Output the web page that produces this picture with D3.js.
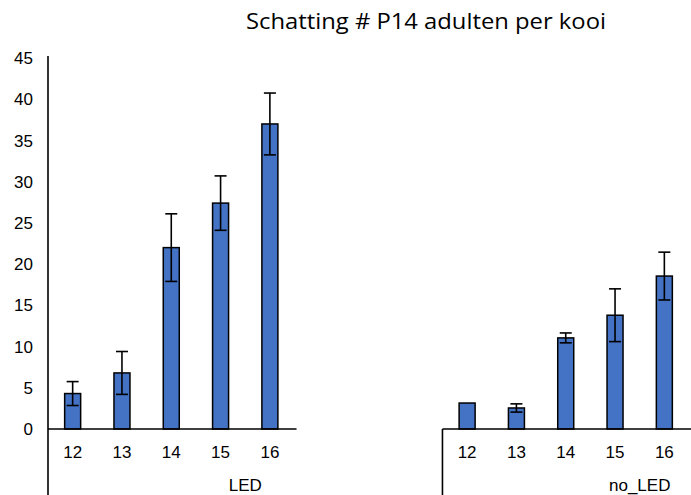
<!DOCTYPE html>
<html>
<head>
<meta charset="utf-8">
<script src="https://cdn.jsdelivr.net/npm/d3@7"></script>
<style>
  body { margin: 0; background: #fff; }
</style>
</head>
<body>
<div id="chart"></div>
<script>
const title = "Schatting # P14 adulten per kooi";
const years = ["12", "13", "14", "15", "16"];
const groups = ["LED", "no_LED"];
const ledMean = [4.3, 6.8, 22.0, 27.4, 37.0];
const ledErr = [1.45, 2.6, 4.1, 3.3, 3.75];
const noLedMean = [3.15, 2.55, 11.05, 13.8, 18.55];
const noLedErr = [0, 0.5, 0.6, 3.2, 2.9];
const yTicks = [0, 5, 10, 15, 20, 25, 30, 35, 40, 45];

const w = 691, h = 495;
const margin = { left: 48, right: 0, top: 58, bottom: 66 };

// 13 slots: 5 LED, 3 empty, 5 no_LED
const slots = [
  ...years.map(y => "LED-" + y),
  "gap1", "gap2", "gap3",
  ...years.map(y => "no_LED-" + y)
];

const data = [
  ...years.map((y, i) => ({ group: "LED", year: y, v: ledMean[i], e: ledErr[i] })),
  ...years.map((y, i) => ({ group: "no_LED", year: y, v: noLedMean[i], e: noLedErr[i] }))
];

let x = d3.scaleBand()
  .domain(slots)
  .range([margin.left, w - margin.right - 2]);

let y = d3.scaleLinear()
  .domain([0, 45])
  .range([h - margin.bottom, margin.top]);

let svg = d3.select("#chart")
  .append("svg")
  .attr("width", w)
  .attr("height", h)
  .style("font-family", "'Liberation Sans', Arial, sans-serif");

svg.append("text")
  .attr("x", 426)
  .attr("y", 28.5)
  .attr("text-anchor", "middle")
  .style("font-family", "'Open Sans', sans-serif")
  .attr("font-size", 21.5)
  .attr("textLength", 360)
  .attr("lengthAdjust", "spacingAndGlyphs")
  .attr("fill", "#000")
  .text(title);

// y tick labels (no axis line ticks)
svg.append("g")
  .selectAll("text")
  .data(yTicks)
  .join("text")
  .attr("x", margin.left - 15)
  .attr("y", d => y(d))
  .attr("dy", "0.36em")
  .attr("text-anchor", "end")
  .attr("font-size", 17)
  .text(d => d);

// bars
let key = d => d.group + "-" + d.year;
let bw = 16;
svg.append("g")
  .selectAll("rect")
  .data(data)
  .join("rect")
  .attr("x", d => x(key(d)) + x.bandwidth() / 2 - bw / 2)
  .attr("y", d => y(d.v))
  .attr("width", bw)
  .attr("height", d => y(0) - y(d.v))
  .attr("fill", "#4472C4")
  .attr("stroke", "#000")
  .attr("stroke-width", 1.5);

// error bars
let eb = svg.append("g")
  .attr("stroke", "#000")
  .attr("stroke-width", 1.6)
  .selectAll("g")
  .data(data.filter(d => d.e > 0))
  .join("g")
  .attr("transform", d => `translate(${x(key(d)) + x.bandwidth() / 2},0)`);
eb.append("line")
  .attr("y1", d => y(d.v + d.e))
  .attr("y2", d => y(d.v - d.e));
eb.append("line")
  .attr("x1", -6).attr("x2", 6)
  .attr("y1", d => y(d.v + d.e))
  .attr("y2", d => y(d.v + d.e));
eb.append("line")
  .attr("x1", -6).attr("x2", 6)
  .attr("y1", d => y(d.v - d.e))
  .attr("y2", d => y(d.v - d.e));

// axes lines
let axis = svg.append("g")
  .attr("stroke", "#000")
  .attr("stroke-width", 1.6);
axis.append("line")
  .attr("x1", x.range()[0]).attr("x2", x.range()[0])
  .attr("y1", y(45) - 2).attr("y2", h);
axis.append("line")
  .attr("x1", x("LED-12")).attr("x2", x("gap1") + 2)
  .attr("y1", y(0)).attr("y2", y(0));
axis.append("line")
  .attr("x1", x("no_LED-12")).attr("x2", w)
  .attr("y1", y(0)).attr("y2", y(0));
axis.append("line")
  .attr("x1", x("no_LED-12")).attr("x2", x("no_LED-12"))
  .attr("y1", y(0)).attr("y2", h);

// category labels
svg.append("g")
  .selectAll("text")
  .data(data)
  .join("text")
  .attr("x", d => x(key(d)) + x.bandwidth() / 2)
  .attr("y", y(0) + 28.5)
  .attr("text-anchor", "middle")
  .attr("font-size", 17)
  .text(d => d.year);

// group labels
let groupX = {
  "LED": (x("LED-12") + x("no_LED-12")) / 2,
  "no_LED": x("no_LED-16")
};
svg.append("g")
  .selectAll("text")
  .data(groups)
  .join("text")
  .attr("x", d => groupX[d])
  .attr("y", y(0) + 61.5)
  .attr("text-anchor", "middle")
  .attr("font-size", 17)
  .text(d => d);
</script>
</body>
</html>
